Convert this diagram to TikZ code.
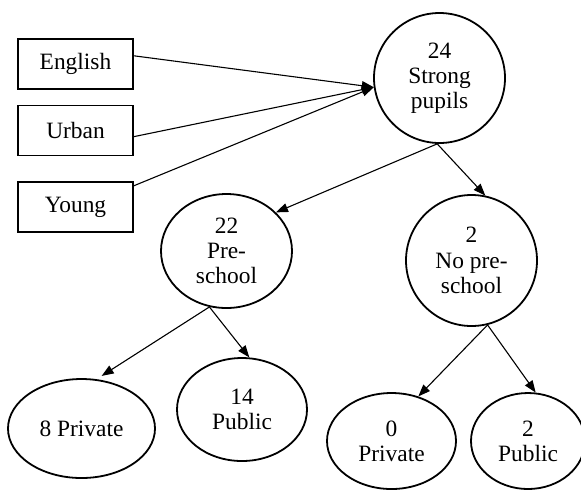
\documentclass[tikz,border=0pt]{standalone}
\usepackage{fontspec}
\setmainfont{Liberation Serif}
\usetikzlibrary{shapes.geometric, arrows.meta}

\begin{document}
\begin{tikzpicture}[x=0.5pt, y=-0.5pt, font=\fontsize{11.7}{12.6}\selectfont,
    factor/.style={draw, line width=0.9pt, minimum width=57.5pt, minimum height=25pt, inner sep=0pt},
    group/.style={draw, ellipse, line width=0.9pt, inner sep=0pt, align=center},
    link/.style={-{Triangle[length=6pt, width=4.5pt]}, line width=0.55pt}]
    \useasboundingbox (0, 0) rectangle (581, 489);

    % factors
    \node[factor] at (75.5, 64) (english) {English};
    \node[factor] at (75.5, 130.5) (urban) {Urban};
    \node[factor] at (75.5, 207) (young) {Young};

    % groups
    \node[group, minimum width=65.5pt, minimum height=65pt] at (439.5, 78) (strong) {24\\Strong\\pupils};
    \node[group, minimum width=65.5pt, minimum height=57pt] at (226.5, 251) (pre) {22\\Pre-\\school};
    \node[group, minimum width=65.5pt, minimum height=65.5pt] at (471.5, 260.5) (nopre) {2\\No pre-\\school};
    \node[group, minimum width=73.5pt, minimum height=49.5pt] at (81.5, 428.5) (priv8) {8 Private};
    \node[group, minimum width=65pt, minimum height=51.5pt] at (242, 409.5) (pub14) {14\\Public};
    \node[group, minimum width=64.5pt, minimum height=48pt] at (391.5, 441) (priv0) {0\\Private};
    \node[group, minimum width=57pt, minimum height=48pt] at (528, 441) (pub2) {2\\Public};

    % factors into strong pupils
    \draw[link] (english.8) -- (strong.188);
    \draw[link] (urban.-6.5) -- (strong.188);
    \draw[link] (young.20) -- (strong.188);

    % splits
    \draw[link] (strong.268) -- (pre.38);
    \draw[link] (strong.268) -- (nopre.78);
    \draw[link, shorten >=3pt] (pre.253) -- (priv8.73);
    \draw[link] (pre.253) -- (pub14.82);
    \draw[link] (nopre.284) -- (priv0.59);
    \draw[link] (nopre.284) -- (pub2.81);
\end{tikzpicture}
\end{document}
